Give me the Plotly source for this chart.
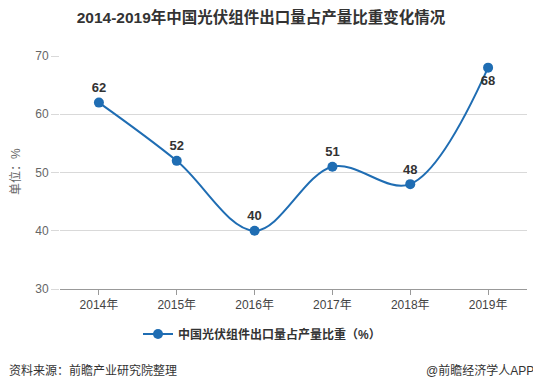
import plotly.graph_objects as go

years = ["2014年", "2015年", "2016年", "2017年", "2018年", "2019年"]
share = [62, 52, 40, 51, 48, 68]
label_pos = ["top center", "top center", "top center", "top center", "top center", "bottom center"]
y_ticks = [30, 40, 50, 60, 70]

FONT = "Liberation Sans, Noto Sans CJK SC, sans-serif"
OFF = 8  # page body margin offset
W, H = 541 - OFF, 391 - OFF
L, R, T, B = 60 - OFF, 14, 56 - OFF, 102
pw, ph = W - L - R, H - T - B

def px_x(x):
    return (x - OFF - L) / pw

def px_y(y):
    return (H - B - (y - OFF)) / ph

fig = go.Figure()
fig.add_trace(go.Scatter(
    x=years, y=share, mode="lines+markers+text",
    name="中国光伏组件出口量占产量比重（%）",
    line=dict(color="#1f6db3", width=2, shape="spline", smoothing=1.0),
    marker=dict(color="#1f6db3", size=10),
    text=[str(v) for v in share], textposition=label_pos,
    textfont=dict(family=FONT, size=13, color="#333333", weight="bold"),
    cliponaxis=False,
))

fig.update_layout(
    width=W, height=H,
    margin=dict(l=L, r=R, t=T, b=B, autoexpand=False),
    paper_bgcolor="white", plot_bgcolor="white",
    font=dict(family=FONT, color="#555555"),
    title=dict(text="<b>2014-2019年中国光伏组件出口量占产量比重变化情况</b>",
               x=(261 - OFF) / W, xanchor="center", y=1 - (18 - OFF) / H, yanchor="middle",
               font=dict(family=FONT, size=15.5, color="#333333")),
    xaxis=dict(type="category", range=[-0.5, 5.5], showgrid=False,
               showline=True, linecolor="#999999", linewidth=1,
               ticks="outside", ticklen=5, tickcolor="#999999",
               tickfont=dict(size=12, color="#444444"), fixedrange=True),
    yaxis=dict(range=[30, 70], tickvals=y_ticks, showgrid=True,
               gridcolor="#d9d9d9", gridwidth=1, zeroline=False,
               showline=False, ticks="outside", ticklen=8, tickcolor="#d9d9d9",
               tickfont=dict(size=12, color="#666666"), fixedrange=True),
    showlegend=True,
    legend=dict(orientation="h", x=px_x(262), xanchor="center",
                y=px_y(334), yanchor="middle",
                font=dict(family=FONT, size=12, color="#333333", weight="bold"),
                itemwidth=30),
    annotations=[
        dict(text="单位：%", x=px_x(15), y=px_y(172), xref="paper", yref="paper",
             textangle=-90, showarrow=False, xanchor="center", yanchor="middle",
             font=dict(family=FONT, size=12, color="#666666")),
        dict(text="资料来源：前瞻产业研究院整理", x=px_x(7), y=px_y(370),
             xref="paper", yref="paper", showarrow=False,
             xanchor="left", yanchor="middle",
             font=dict(family=FONT, size=12, color="#333333")),
        dict(text="@前瞻经济学人APP", x=px_x(536), y=px_y(370),
             xref="paper", yref="paper", showarrow=False,
             xanchor="right", yanchor="middle",
             font=dict(family=FONT, size=12, color="#333333")),
    ],
)

fig.write_html("out.html")
